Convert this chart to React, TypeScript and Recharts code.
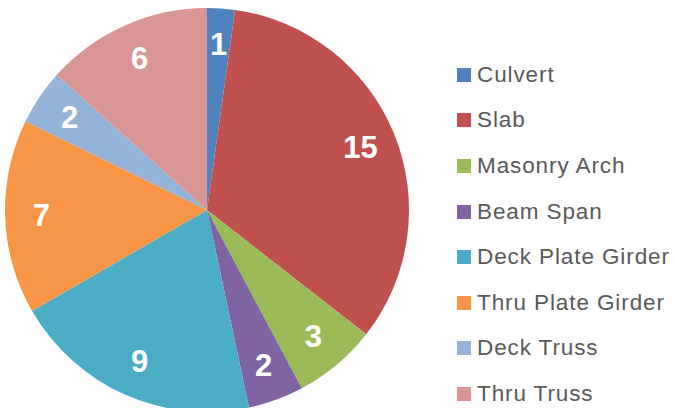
import React from 'react';
import { PieChart, Pie, Cell, Legend } from 'recharts';

const categories = [
  'Culvert',
  'Slab',
  'Masonry Arch',
  'Beam Span',
  'Deck Plate Girder',
  'Thru Plate Girder',
  'Deck Truss',
  'Thru Truss',
];
const counts = [1, 15, 3, 2, 9, 7, 2, 6];
const colors = ['#4F81BD', '#C0504D', '#9BBB59', '#8064A2', '#4BACC6', '#F79646', '#95B3D7', '#D99694'];

const data = categories.map((name, i) => ({ name, value: counts[i] }));

const RADIAN = Math.PI / 180;

function SliceLabel(props: any) {
  const { cx, cy, midAngle, outerRadius, value } = props;
  const r = outerRadius * 0.82;
  const x = cx + r * Math.cos(-midAngle * RADIAN);
  const y = cy + r * Math.sin(-midAngle * RADIAN);
  return (
    <text
      x={x}
      y={y}
      fill="#fff"
      textAnchor="middle"
      dominantBaseline="central"
      fontFamily="'Liberation Sans', Arial, sans-serif"
      fontWeight="bold"
      fontSize={31}
    >
      {value}
    </text>
  );
}

// legend drawn in the category order, not the sorted payload
function LegendList() {
  return (
    <div style={{ fontFamily: "'Liberation Sans', Arial, sans-serif" }}>
      {categories.map((name, i) => (
        <div key={name} style={{ display: 'flex', alignItems: 'center', height: 45.6 }}>
          <span style={{ width: 14, height: 14, background: colors[i], display: 'inline-block', marginRight: 6 }} />
          <span style={{ fontSize: 22.5, lineHeight: '20px', color: '#595959', letterSpacing: 0.9 }}>{name}</span>
        </div>
      ))}
    </div>
  );
}

export default function App() {
  return (
    <div style={{ position: 'absolute', left: 0, top: 0, width: 676, height: 408, background: '#fff' }}>
      <PieChart width={676} height={408}>
        <Pie
          data={data}
          dataKey="value"
          nameKey="name"
          cx={202}
          cy={205}
          outerRadius={202}
          startAngle={90}
          endAngle={-270}
          stroke="none"
          labelLine={false}
          label={SliceLabel}
          isAnimationActive={false}
        >
          {data.map((d, i) => (
            <Cell key={d.name} fill={colors[i]} />
          ))}
        </Pie>
        <Legend
          layout="vertical"
          content={<LegendList />}
          wrapperStyle={{ left: 457, top: 52, width: 219 }}
        />
      </PieChart>
    </div>
  );
}
